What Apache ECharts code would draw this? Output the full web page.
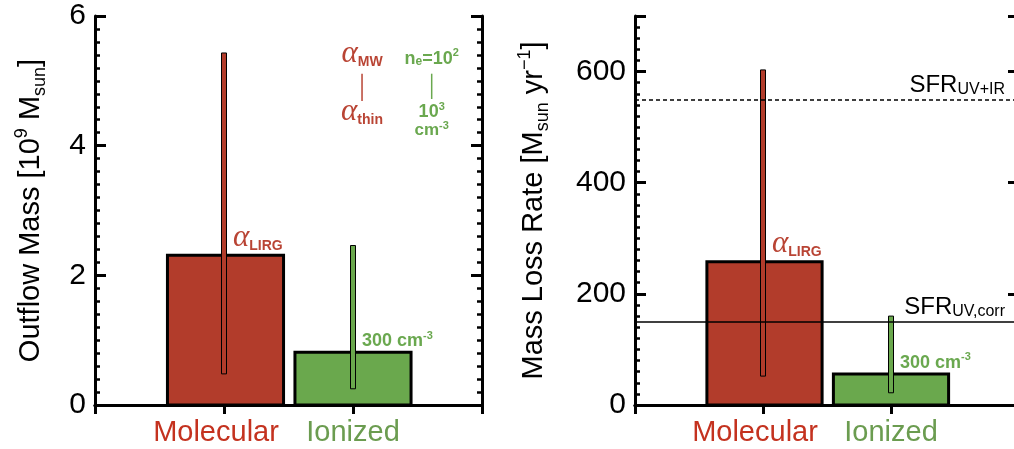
<!DOCTYPE html>
<html><head><meta charset="utf-8">
<script src="https://cdn.jsdelivr.net/npm/echarts@6/dist/echarts.min.js"></script>
<style>html,body{margin:0;padding:0;background:#fff}#c{width:1014px;height:449px}</style>
</head><body><div id="c"></div>
<script>
// ---------------- data ----------------
const categories = ['Molecular', 'Ionized'];
const categoryPos = [1, 2];
const massValues = [2.31, 0.815];
const massErrLow = [0.48, 0.25];
const massErrHigh = [5.43, 2.46];
const rateValues = [258, 56];
const rateErrLow = [52, 22];
const rateErrHigh = [603, 160];
const sfrUVIR = 550;
const sfrUVcorr = 150;
const massTicks = [0, 2, 4, 6];
const rateTicks = [0, 200, 400, 600];

// ---------------- styles ----------------
const FONT = 'Liberation Sans';
const BAR_COLORS = ['#b23c2b', '#6aa84d'];
const LABEL_COLORS = ['#c4321f', '#6b9c50'];
const ANN_RED = '#b94434';
const ANN_GREEN = '#6aa84f';

const chart = echarts.init(document.getElementById('c'));

function yAxesFor(grid, min, max, major, minor, name, ticks) {
  const common = {gridIndex: grid, type: 'value', min: min, max: max, splitLine: {show: false}};
  return [
    Object.assign({}, common, {
      position: 'left', interval: major,
      axisLine: {show: true, lineStyle: {color: '#000', width: 3}},
      axisTick: {show: true, inside: true, length: 11, lineStyle: {color: '#000', width: 3}},
      axisLabel: {color: '#000', fontFamily: FONT, fontSize: 30, margin: 9,
        formatter: v => ticks.indexOf(v) >= 0 ? String(v) : ''},
      name: name, nameLocation: 'middle', nameRotate: 90,
      nameGap: grid === 0 ? 46 : 83,
      nameTextStyle: {color: '#000', fontFamily: FONT, fontSize: 29,
        rich: {
          t: {fontFamily: FONT, fontSize: 29, lineHeight: 36, color: '#000'},
          sup: {fontFamily: FONT, fontSize: 18, verticalAlign: 'top', lineHeight: 36, color: '#000'},
          sub: {fontFamily: FONT, fontSize: 18, verticalAlign: 'bottom', lineHeight: 36, color: '#000'}
        }}
    }),
    Object.assign({}, common, {
      position: 'left', interval: minor,
      axisLine: {show: false},
      axisTick: {show: true, inside: true, length: 5, lineStyle: {color: '#000', width: 2.5}},
      axisLabel: {show: false}
    }),
    Object.assign({}, common, {
      position: 'right', interval: major,
      axisLine: {show: true, lineStyle: {color: '#000', width: 3}},
      axisTick: {show: true, inside: true, length: 11, lineStyle: {color: '#000', width: 3}},
      axisLabel: {show: false}
    }),
    Object.assign({}, common, {
      position: 'right', interval: minor,
      axisLine: {show: false},
      axisTick: {show: true, inside: true, length: 5, lineStyle: {color: '#000', width: 2.5}},
      axisLabel: {show: false}
    })
  ];
}

function xAxesFor(grid) {
  return [
    {gridIndex: grid, type: 'value', position: 'bottom', min: 0, max: 3, interval: 1,
      splitLine: {show: false},
      axisLine: {show: true, lineStyle: {color: '#000', width: 3}},
      axisTick: {show: false},
      axisLabel: {margin: 13, fontFamily: FONT, fontSize: 29,
        formatter: v => {
          const i = categoryPos.indexOf(v);
          return i < 0 ? '' : '{c' + i + '|' + categories[i] + '}';
        },
        rich: {
          c0: {color: LABEL_COLORS[0], fontFamily: FONT, fontSize: 29, padding: [0, 16, 0, 0]},
          c1: {color: LABEL_COLORS[1], fontFamily: FONT, fontSize: 29}
        }}},
    {gridIndex: grid, type: 'value', position: 'top', min: 0, max: 3, interval: 1,
      splitLine: {show: false},
      axisLine: {show: true, lineStyle: {color: '#000', width: 3}},
      axisTick: {show: true, inside: true, length: 9, lineStyle: {color: '#000', width: 3}},
      axisLabel: {show: false}}
  ];
}

const alphaRich = {
  a: {fontFamily: 'Liberation Serif', fontStyle: 'italic', fontSize: 31, fill: ANN_RED, verticalAlign: 'bottom', lineHeight: 26},
  s: {fontFamily: FONT, fontWeight: 'bold', fontSize: 14, fill: ANN_RED, verticalAlign: 'bottom', lineHeight: 21}
};
const cmRich = {
  n: {fontFamily: FONT, fontWeight: 'bold', fontSize: 18, fill: ANN_GREEN, verticalAlign: 'bottom', lineHeight: 20},
  p: {fontFamily: FONT, fontWeight: 'bold', fontSize: 11, fill: ANN_GREEN, verticalAlign: 'top', lineHeight: 20},
  e: {fontFamily: FONT, fontWeight: 'bold', fontSize: 12, fill: ANN_GREEN, verticalAlign: 'bottom', lineHeight: 17}
};

function makeRender(withLegendNotes) {
  return function (params, api) {
    const i = params.dataIndex;
    const x = api.value(0), v = api.value(1), lo = api.value(2), hi = api.value(3);
    const halfW = api.size([0.9, 0])[0] / 2;
    const base = api.coord([x, 0]);
    const top = api.coord([x, v]);
    const eLo = api.coord([x, lo]);
    const eHi = api.coord([x, hi]);
    const barCx = base[0] + (i === 0 ? 1.5 : 0);
    const ew = 5;
    const children = [
      {type: 'rect', shape: {x: barCx - halfW, y: top[1], width: 2 * halfW, height: base[1] - top[1]},
        style: {fill: BAR_COLORS[i], stroke: '#000', lineWidth: 3}},
      {type: 'rect', shape: {x: eHi[0] - ew / 2, y: eHi[1], width: ew, height: eLo[1] - eHi[1]},
        style: {fill: BAR_COLORS[i], stroke: '#000', lineWidth: 1}},
      {type: 'text', x: eHi[0] + 9, y: top[1] - 2,
        style: i === 0
          ? {text: '{a|α}{s|LIRG}', rich: alphaRich, align: 'left', verticalAlign: 'bottom'}
          : {text: '{n|300 cm}{p|-3}', rich: cmRich, align: 'left', verticalAlign: 'bottom'}}
    ];
    if (withLegendNotes && i === 0) {
      const mw = api.coord([2.07, 5.18]);
      const l1a = api.coord([2.07, 5.11]), l1b = api.coord([2.07, 4.69]);
      const th = api.coord([2.07, 4.29]);
      const ne = api.coord([2.61, 5.2]);
      const l2a = api.coord([2.61, 5.11]), l2b = api.coord([2.61, 4.72]);
      const t3 = api.coord([2.61, 4.38]);
      const cm = api.coord([2.61, 4.11]);
      children.push(
        {type: 'text', x: mw[0], y: mw[1], style: {text: '{a|α}{s|MW}', rich: alphaRich, align: 'center', verticalAlign: 'bottom'}},
        {type: 'line', shape: {x1: l1a[0], y1: l1a[1], x2: l1b[0], y2: l1b[1]}, style: {stroke: ANN_RED, lineWidth: 1.5}},
        {type: 'text', x: th[0], y: th[1], style: {text: '{a|α}{s|thin}', rich: alphaRich, align: 'center', verticalAlign: 'bottom'}},
        {type: 'text', x: ne[0], y: ne[1], style: {text: '{n|n}{e|e}{n|=10}{p|2}', rich: cmRich, align: 'center', verticalAlign: 'bottom'}},
        {type: 'line', shape: {x1: l2a[0], y1: l2a[1], x2: l2b[0], y2: l2b[1]}, style: {stroke: ANN_GREEN, lineWidth: 1.5}},
        {type: 'text', x: t3[0], y: t3[1], style: {text: '{n|10}{p|3}', rich: cmRich, align: 'center', verticalAlign: 'bottom'}},
        {type: 'text', x: cm[0], y: cm[1], style: {text: '{c|cm}{q|-3}', rich: {
          c: {fontFamily: FONT, fontWeight: 'bold', fontSize: 17, fill: ANN_GREEN, verticalAlign: 'bottom', lineHeight: 18},
          q: {fontFamily: FONT, fontWeight: 'bold', fontSize: 11, fill: ANN_GREEN, verticalAlign: 'top', lineHeight: 18}
        }, align: 'center', verticalAlign: 'bottom'}}
      );
    }
    return {type: 'group', children: children};
  };
}

function seriesData(vals, lows, highs) {
  return categoryPos.map((p, i) => [p, vals[i], lows[i], highs[i]]);
}

const sfrRich = {
  s: {fontFamily: FONT, fontSize: 24, color: '#000', verticalAlign: 'bottom', lineHeight: 24},
  u: {fontFamily: FONT, fontSize: 16, color: '#000', verticalAlign: 'bottom', lineHeight: 22}
};

chart.setOption({
  animation: false,
  backgroundColor: '#fff',
  grid: [
    {left: 95, top: 16, width: 387, height: 389, outerBoundsMode: 'none', containLabel: false},
    {left: 635, top: 16, width: 384, height: 389, outerBoundsMode: 'none', containLabel: false}
  ],
  xAxis: [].concat(xAxesFor(0), xAxesFor(1)),
  yAxis: [].concat(
    yAxesFor(0, 0, 6, 2, 0.2, '{t|Outflow Mass [10}{sup|9}{t| M}{sub|sun}{t|]}', massTicks),
    yAxesFor(1, 0, 700, 200, 20, '{t|Mass Loss Rate [M}{sub|sun}{t| yr}{sup|−1}{t|]}', rateTicks)
  ),
  series: [
    {type: 'custom', xAxisIndex: 0, yAxisIndex: 0, clip: false, z: 3,
      renderItem: makeRender(true),
      data: seriesData(massValues, massErrLow, massErrHigh)},
    {type: 'custom', xAxisIndex: 2, yAxisIndex: 4, clip: false, z: 3,
      renderItem: makeRender(false),
      data: seriesData(rateValues, rateErrLow, rateErrHigh),
      markLine: {
        silent: true, symbol: 'none', z: 5,
        data: [
          {yAxis: sfrUVIR, lineStyle: {color: '#000', width: 1.5, type: [4, 3]},
            label: {formatter: '{s|SFR}{u|UV+IR}'}},
          {yAxis: sfrUVcorr, lineStyle: {color: '#000', width: 1.5, type: 'solid'},
            label: {formatter: '{s|SFR}{u|UV,corr}'}}
        ],
        label: {show: true, position: 'insideEndTop', distance: [14, 2], rich: sfrRich}
      }}
  ]
});
</script>
</body></html>
